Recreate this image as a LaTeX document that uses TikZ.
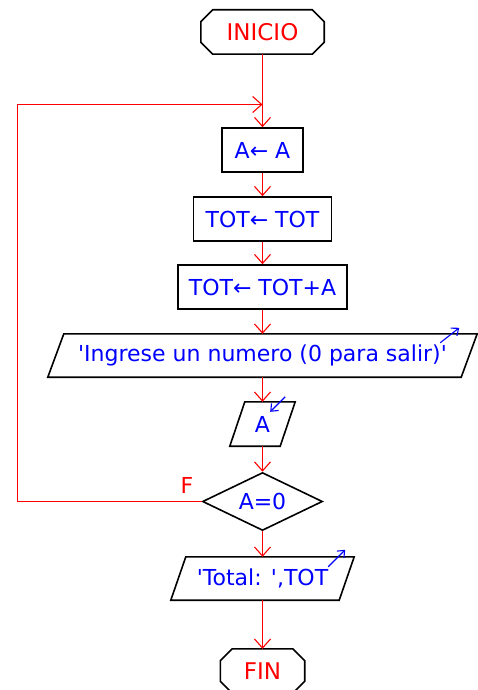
\documentclass[tikz,border=0pt]{standalone}
\usepackage{fontspec}
\setmainfont{DejaVu Sans}
\usetikzlibrary{shapes.geometric,arrows.meta,calc}
\definecolor{fred}{RGB}{255,0,0}
\definecolor{fblue}{RGB}{0,0,255}
\begin{document}
\begin{tikzpicture}[x=1pt,y=-1pt,
  font=\fontsize{22}{26}\selectfont,
  outline/.style={draw=black,line width=1.6pt},
  procbox/.style={outline,rectangle,inner sep=0pt,text=fblue},
  plain/.style={rectangle,inner sep=0pt,text=fblue},
  termtext/.style={rectangle,inner sep=0pt,text=fred,font=\fontsize{23}{27}\selectfont},
  decision/.style={outline,diamond,aspect=2,inner sep=0pt,minimum width=120pt,minimum height=58pt,text=fblue},
  flow/.style={draw=fred,line width=1.1pt,-{Straight Barb[length=9pt,width=16pt]}},
  io/.style={draw=fblue,line width=1.1pt,-{Straight Barb[length=6pt,width=10pt]}},
  lbl/.style={text=fred,inner sep=0pt}]
\useasboundingbox (0,0) rectangle (478,690);
% terminals
\node[termtext,minimum width=123pt,minimum height=44pt] (ini) at (262.5,32) {INICIO};
\draw[outline] ($(ini.north west)+(12,0)$) -- ($(ini.north east)+(-12,0)$) -- ($(ini.north east)+(0,12)$) -- ($(ini.south east)+(0,-12)$) -- ($(ini.south east)+(-12,0)$) -- ($(ini.south west)+(12,0)$) -- ($(ini.south west)+(0,-12)$) -- ($(ini.north west)+(0,12)$) -- cycle;
% process boxes
\node[procbox,minimum width=81pt,minimum height=44pt] (a1) at (262.5,150) {A← A};
\node[procbox,minimum width=138pt,minimum height=44pt] (a2) at (262.5,219) {TOT← TOT};
\node[procbox,minimum width=169pt,minimum height=44pt] (a3) at (262.5,287) {TOT← TOT+A};
% output 1
\node[plain,minimum width=413pt,minimum height=43pt] (ing) at (262.5,355.5) {\textquotesingle Ingrese un numero (0 para salir)\textquotesingle};
\draw[outline] ($(ing.north west)+(8,0)$) -- ($(ing.north east)+(8,0)$) -- ($(ing.south east)+(-8,0)$) -- ($(ing.south west)+(-8,0)$) -- cycle;
\draw[io] ($(ing.north east)+(-29,9)$) -- ($(ing.north east)+(-10,-6)$);
% input
\node[plain,minimum width=50pt,minimum height=44pt] (inp) at (262.5,424) {A};
\draw[outline] ($(inp.north west)+(7.5,0)$) -- ($(inp.north east)+(7.5,0)$) -- ($(inp.south east)+(-7.5,0)$) -- ($(inp.south west)+(-7.5,0)$) -- cycle;
\draw[io] ($(inp.north east)+(-2.5,-5)$) -- ($(inp.north east)+(-17.5,10)$);
% decision
\node[decision] (cond) at (262.5,501.5) {A=0};
% output 2
\node[plain,minimum width=168pt,minimum height=43pt] (tot) at (262.5,578.5) {\textquotesingle Total: \textquotesingle,TOT};
\draw[outline] ($(tot.north west)+(7.5,0)$) -- ($(tot.north east)+(7.5,0)$) -- ($(tot.south east)+(-7.5,0)$) -- ($(tot.south west)+(-7.5,0)$) -- cycle;
\draw[io] ($(tot.north east)+(-18.5,10)$) -- ($(tot.north east)+(-1.5,-7)$);
% fin
\node[termtext,minimum width=84pt,minimum height=44pt] (fin) at (262.5,671) {FIN};
\draw[outline] ($(fin.north west)+(12,0)$) -- ($(fin.north east)+(-12,0)$) -- ($(fin.north east)+(0,12)$) -- ($(fin.south east)+(0,-12)$) -- ($(fin.south east)+(-12,0)$) -- ($(fin.south west)+(12,0)$) -- ($(fin.south west)+(0,-12)$) -- ($(fin.north west)+(0,12)$) -- cycle;
% connectors
\coordinate (join) at (262.5,104.5);
\coordinate (lc) at (17.5,501.5);
\draw[flow] (ini.south) -- (a1.north);
\draw[flow] (a1.south) -- (a2.north);
\draw[flow] (a2.south) -- (a3.north);
\draw[flow] (a3.south) -- (ing.north);
\draw[flow] (ing.south) -- (inp.north);
\draw[flow] (inp.south) -- (cond.north);
\draw[flow] (cond.south) -- (tot.north);
\draw[flow] (tot.south) -- (fin.north);
\draw[flow] (cond.west) -- (lc) |- (join);
\node[lbl] (flab) at (187,485) {F};
\end{tikzpicture}
\end{document}
